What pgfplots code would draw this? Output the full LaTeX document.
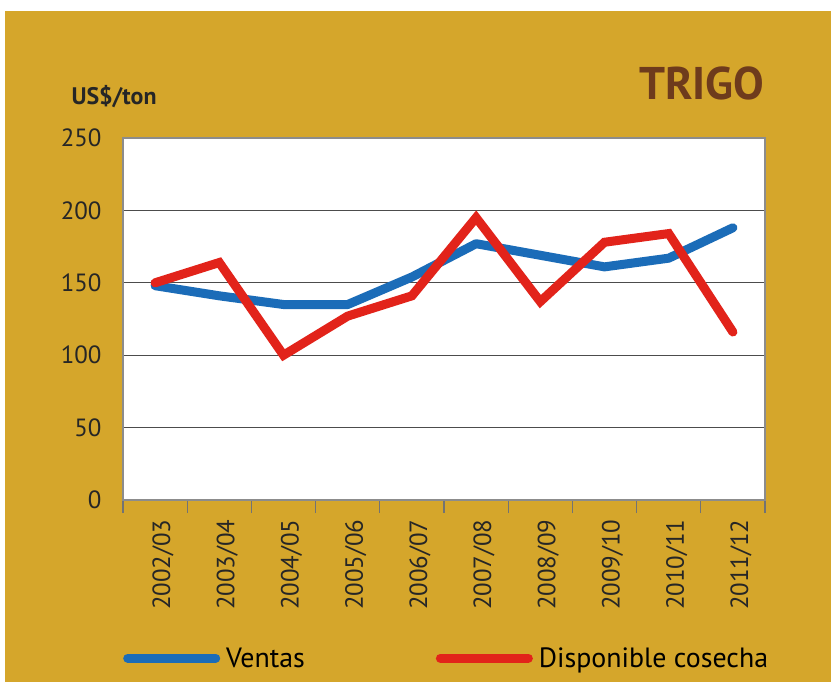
\documentclass[border=0pt]{standalone}
\usepackage{pgfplots}
\pgfplotsset{compat=1.18}
\usepackage{fontspec}
\setmainfont{PT Sans}
\definecolor{gold}{HTML}{D5A62B}
\definecolor{brownT}{HTML}{6E3B1C}
\definecolor{blueL}{HTML}{1B6CB8}
\definecolor{redL}{HTML}{E2231A}
\begin{document}
\begin{tikzpicture}
\fill[white] (0bp,0bp) rectangle (831bp,682bp);
\fill[gold] (5bp,0bp) rectangle (831bp,671bp);
\begin{axis}[
  at={(123bp,182bp)}, anchor=south west,
  scale only axis, width=642bp, height=362bp,
  xmin=0.5, xmax=10.5, ymin=0, ymax=250,
  axis background/.style={fill=white},
  axis line style={draw=black!45, line width=1.5bp},
  xtick={1,...,10},
  xticklabels={2002/03,2003/04,2004/05,2005/06,2006/07,2007/08,2008/09,2009/10,2010/11,2011/12},
  minor xtick={0.5,1.5,...,10.5},
  xtick pos=bottom, ytick pos=left,
  major tick length=0pt,
  minor tick length=13bp,
  tick align=outside,
  minor tick style={draw=black!55, line width=1.2bp},
  ytick={0,50,...,250},
  ymajorgrids,
  grid style={draw=black!70, line width=1.3bp},
  /pgf/number format/assume math mode=true,
  yticklabel style={font=\fontsize{25}{25}\selectfont, text=black!85, xshift=-18bp},
  xticklabel style={font=\fontsize{25}{25}\selectfont, text=black!85, rotate=90, anchor=east, yshift=-8bp, xshift=-16bp},
  legend style={at={(rel axis cs:0,-0.437)}, anchor=west, draw=none, fill=none,
    font=\fontsize{28}{28}\selectfont, legend columns=2, inner sep=0pt},
  legend cell align=left,
  /tikz/every even column/.append style={column sep=129bp},
  legend image code/.code={\draw[line width=9bp, line cap=round] (0bp,0bp) -- (88bp,0bp);},
  every axis plot/.append style={line width=9bp, line cap=round, line join=round},
]
\addplot[blueL] coordinates {(1,148) (2,141) (3,135) (4,135) (5,154) (6,177) (7,169) (8,161) (9,167) (10,188)};
\addlegendentry{\hspace{4bp}Ventas}
\addplot[redL, line join=miter] coordinates {(1,150) (2,164) (3,100) (4,127) (5,141) (6,195) (7,137) (8,178) (9,184) (10,116)};
\addlegendentry{\hspace{4bp}Disponible cosecha}
\end{axis}
\node[anchor=west, font=\bfseries\fontsize{24}{24}\selectfont, text=black!85] at (68bp,585bp) {US\$/ton};
\node[anchor=east, font=\bfseries\fontsize{46}{46}\selectfont, text=brownT] at (768bp,599bp) {TRIGO};
\end{tikzpicture}
\end{document}
